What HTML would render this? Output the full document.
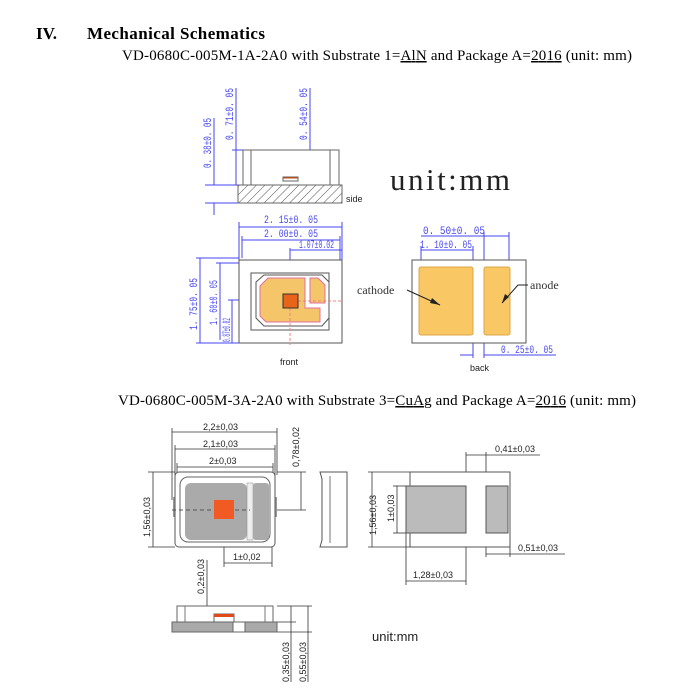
<!DOCTYPE html>
<html><head><meta charset="utf-8"><style>
html,body{margin:0;padding:0;background:#fff;width:688px;height:691px;overflow:hidden}
svg{display:block}
.b{fill:#4646f0;font-family:"Liberation Mono",monospace;font-size:11px}
.k{font-family:"Liberation Sans",sans-serif;font-size:9px;fill:#222}
</style></head><body>
<svg width="688" height="691" viewBox="0 0 688 691" xmlns="http://www.w3.org/2000/svg">
<defs>
<pattern id="h" width="6" height="6" patternUnits="userSpaceOnUse" patternTransform="rotate(45)"><line x1="0" y1="0" x2="0" y2="6" stroke="#555" stroke-width="1"/></pattern>
</defs>
<text x="36" y="39" font-family="Liberation Serif,serif" font-weight="bold" font-size="17">IV.</text>
<text x="87" y="39" font-family="Liberation Serif,serif" font-weight="bold" font-size="17" textLength="178">Mechanical Schematics</text>
<text x="122" y="60" font-family="Liberation Serif,serif" font-size="15" textLength="510">VD-0680C-005M-1A-2A0 with Substrate 1=<tspan text-decoration="underline">AlN</tspan> and Package A=<tspan text-decoration="underline">2016</tspan> (unit: mm)</text>

<g stroke="#4646f0" stroke-width="1" fill="none">
<line x1="214" y1="118" x2="214" y2="185"/><line x1="236" y1="88" x2="236" y2="185"/><line x1="310" y1="88" x2="310" y2="177"/>
<line x1="205" y1="185" x2="243" y2="185"/><line x1="205" y1="203" x2="238" y2="203"/><line x1="214" y1="203" x2="214" y2="215"/>
<line x1="232" y1="150" x2="243" y2="150"/><line x1="300" y1="177" x2="315" y2="177"/>
<line x1="239" y1="227" x2="342" y2="227"/><line x1="242" y1="240" x2="340" y2="240"/><line x1="290" y1="250" x2="342" y2="250"/>
<line x1="239" y1="222" x2="239" y2="260"/><line x1="342" y1="222" x2="342" y2="343"/><line x1="340" y1="236" x2="340" y2="260"/><line x1="242" y1="236" x2="242" y2="258"/>
<line x1="290" y1="248" x2="290" y2="300"/>
<line x1="200" y1="258" x2="200" y2="343"/><line x1="220" y1="263" x2="220" y2="340"/><line x1="232" y1="300" x2="232" y2="343"/>
<line x1="196" y1="258" x2="239" y2="258"/><line x1="216" y1="263" x2="250" y2="263"/><line x1="196" y1="343" x2="239" y2="343"/><line x1="228" y1="300" x2="283" y2="300"/>
<line x1="421" y1="250" x2="473" y2="250"/><line x1="421" y1="246" x2="421" y2="262"/><line x1="473" y1="246" x2="473" y2="262"/>
<line x1="484" y1="236" x2="509" y2="236"/><line x1="484" y1="232" x2="484" y2="262"/><line x1="509" y1="232" x2="509" y2="262"/><line x1="421" y1="236" x2="484" y2="236"/>
<line x1="473" y1="343" x2="473" y2="358"/><line x1="484" y1="343" x2="484" y2="358"/><line x1="460" y1="355" x2="473" y2="355"/><line x1="484" y1="355" x2="556" y2="355"/>
</g>
<g>
<text class="b" transform="translate(211,168) rotate(-90)" textLength="50" lengthAdjust="spacingAndGlyphs">0. 38±0. 05</text>
<text class="b" transform="translate(233,140) rotate(-90)" textLength="52" lengthAdjust="spacingAndGlyphs">0. 71±0. 05</text>
<text class="b" transform="translate(307,140) rotate(-90)" textLength="52" lengthAdjust="spacingAndGlyphs">0. 54±0. 05</text>
<text class="b" x="264" y="223" textLength="54" lengthAdjust="spacingAndGlyphs">2. 15±0. 05</text>
<text class="b" x="264" y="237" textLength="54" lengthAdjust="spacingAndGlyphs">2. 00±0. 05</text>
<text class="b" x="299" y="248" font-size="7" textLength="35" lengthAdjust="spacingAndGlyphs">1.07±0.02</text>
<text class="b" transform="translate(197,330) rotate(-90)" textLength="52" lengthAdjust="spacingAndGlyphs">1. 75±0. 05</text>
<text class="b" transform="translate(217,325) rotate(-90)" textLength="45" lengthAdjust="spacingAndGlyphs">1. 60±0. 05</text>
<text class="b" transform="translate(230,342) rotate(-90)" font-size="7" textLength="24" lengthAdjust="spacingAndGlyphs">0.87±0.02</text>
<text class="b" x="423" y="234" textLength="62" lengthAdjust="spacingAndGlyphs">0. 50±0. 05</text>
<text class="b" x="420" y="248" textLength="52" lengthAdjust="spacingAndGlyphs">1. 10±0. 05</text>
<text class="b" x="501" y="353" textLength="52" lengthAdjust="spacingAndGlyphs">0. 25±0. 05</text>
</g>
<rect x="243" y="150" width="96" height="35" fill="#fff" stroke="#666"/>
<line x1="251" y1="150" x2="251" y2="185" stroke="#666"/><line x1="330" y1="150" x2="330" y2="185" stroke="#666"/>
<rect x="283" y="177" width="15" height="4" fill="#fff" stroke="#666"/><rect x="283" y="177" width="15" height="1.5" fill="#b05020"/>
<rect x="238" y="185" width="104" height="18" fill="url(#h)" stroke="#666"/>
<text class="k" x="346" y="202">side</text>
<text x="390" y="190" font-family="Liberation Serif,serif" font-size="31" fill="#222" textLength="120">unit:mm</text>

<rect x="239" y="260" width="103" height="83" fill="#fff" stroke="#555"/>
<rect x="251" y="273" width="78" height="57" fill="#fff" stroke="#555"/>
<polygon points="264,275 322,275 329,282 329,318 322,326 264,326 256,318 256,282" fill="#fff" stroke="#555"/>
<polygon points="268,278 305,278 305,308 320,308 320,322 266,322 260,316 260,286" fill="#f5c56a" stroke="#e070a0"/>
<polygon points="310,278 318,278 325,285 325,303 310,303" fill="#f5c56a" stroke="#e070a0"/>
<line x1="298" y1="301" x2="342" y2="301" stroke="#f08080" stroke-dasharray="3,2"/>
<line x1="290" y1="308" x2="290" y2="345" stroke="#f08080" stroke-dasharray="3,2"/>
<rect x="283" y="294" width="15" height="14" fill="#e8641a" stroke="#333"/>
<text class="k" x="280" y="365">front</text>

<rect x="412" y="260" width="114" height="83" fill="#fff" stroke="#555"/>
<rect x="419" y="267" width="54" height="68" rx="2" fill="#f9c865" stroke="#d9a64a"/>
<rect x="484" y="267" width="26" height="68" rx="2" fill="#f9c865" stroke="#d9a64a"/>
<text x="357" y="294" font-family="Liberation Serif,serif" font-size="12" fill="#333">cathode</text>
<line x1="407" y1="290" x2="440" y2="305" stroke="#222"/>
<polygon points="440,305 432,298 430,303" fill="#222"/>
<text x="530" y="289" font-family="Liberation Serif,serif" font-size="12" fill="#333">anode</text>
<path d="M528 285 L518 285 L502 303" stroke="#222" fill="none"/>
<polygon points="502,303 505,294 509,297" fill="#222"/>
<text class="k" x="470" y="371">back</text>

<text x="118" y="405" font-family="Liberation Serif,serif" font-size="15" textLength="518">VD-0680C-005M-3A-2A0 with Substrate 3=<tspan text-decoration="underline">CuAg</tspan> and Package A=<tspan text-decoration="underline">2016</tspan> (unit: mm)</text>

<g stroke="#333" stroke-width="0.8" fill="none">
<line x1="172" y1="432" x2="277" y2="432"/><line x1="175" y1="449" x2="275" y2="449"/><line x1="177" y1="467" x2="273" y2="467"/>
<line x1="172" y1="428" x2="172" y2="500"/><line x1="277" y1="428" x2="277" y2="475"/><line x1="175" y1="445" x2="175" y2="475"/><line x1="275" y1="445" x2="275" y2="475"/><line x1="177" y1="463" x2="177" y2="475"/><line x1="273" y1="463" x2="273" y2="475"/>
<line x1="301" y1="472" x2="301" y2="510"/><line x1="277" y1="472" x2="306" y2="472"/><line x1="250" y1="510" x2="306" y2="510"/>
<line x1="153" y1="472" x2="153" y2="547"/><line x1="148" y1="472" x2="175" y2="472"/><line x1="148" y1="547" x2="175" y2="547"/>
<line x1="224" y1="563" x2="272" y2="563"/><line x1="224" y1="510" x2="224" y2="567"/><line x1="272" y1="545" x2="272" y2="567"/>
<line x1="372" y1="472" x2="372" y2="547"/><line x1="368" y1="472" x2="410" y2="472"/><line x1="368" y1="547" x2="410" y2="547"/>
<line x1="397" y1="486" x2="397" y2="533"/><line x1="393" y1="486" x2="406" y2="486"/><line x1="393" y1="533" x2="406" y2="533"/>
<line x1="466" y1="452" x2="466" y2="486"/><line x1="486" y1="452" x2="486" y2="486"/><line x1="466" y1="455" x2="486" y2="455"/><line x1="486" y1="455" x2="540" y2="455"/>
<line x1="486" y1="533" x2="486" y2="557"/><line x1="510" y1="533" x2="510" y2="557"/><line x1="486" y1="554" x2="565" y2="554"/>
<line x1="406" y1="533" x2="406" y2="585"/><line x1="466" y1="533" x2="466" y2="585"/><line x1="406" y1="581" x2="466" y2="581"/>
<line x1="207" y1="560" x2="207" y2="620"/><line x1="200" y1="614" x2="215" y2="614"/>
<line x1="291" y1="606" x2="291" y2="682"/><line x1="308" y1="606" x2="308" y2="682"/><line x1="277" y1="606" x2="312" y2="606"/><line x1="277" y1="622" x2="296" y2="622"/><line x1="277" y1="632" x2="312" y2="632"/>
</g>
<g font-family="Liberation Sans,sans-serif" font-size="9" fill="#222">
<text x="203" y="430">2,2±0,03</text><text x="203" y="447">2,1±0,03</text><text x="209" y="464">2±0,03</text>
<text transform="translate(299,467) rotate(-90)">0,78±0,02</text>
<text transform="translate(150,537) rotate(-90)">1,56±0,03</text>
<text x="233" y="560">1±0,02</text>
<text transform="translate(376,535) rotate(-90)">1,56±0,03</text>
<text transform="translate(394,522) rotate(-90)">1±0,03</text>
<text x="495" y="452">0,41±0,03</text>
<text x="518" y="551">0,51±0,03</text>
<text x="413" y="578">1,28±0,03</text>
<text transform="translate(204,594) rotate(-90)">0,2±0,03</text>
<text transform="translate(289,682) rotate(-90)">0,35±0,03</text>
<text transform="translate(306,682) rotate(-90)">0,55±0,03</text>
<text x="372" y="641" font-size="13">unit:mm</text>
</g>
<rect x="173" y="497" width="4" height="20" fill="#999"/><rect x="273" y="497" width="4" height="20" fill="#999"/>
<rect x="175" y="472" width="100" height="75" rx="4" fill="#fff" stroke="#555"/>
<rect x="180" y="477" width="90" height="65" rx="8" fill="#fff" stroke="#666"/>
<rect x="185" y="483" width="62" height="57" rx="6" fill="#aaa"/>
<rect x="247" y="483" width="6" height="57" fill="#eee" stroke="#888" stroke-width="0.5"/>
<rect x="253" y="483" width="16" height="57" rx="3" fill="#aaa"/>
<line x1="172" y1="510" x2="250" y2="510" stroke="#555" stroke-dasharray="4,3"/>
<rect x="214" y="500" width="20" height="19" fill="#f15a22"/>
<polygon points="320,472 347,472 347,547 320,547 322,540 322,479" fill="#fff" stroke="#555"/>
<line x1="330" y1="476" x2="330" y2="543" stroke="#777"/>
<rect x="410" y="472" width="100" height="75" fill="#fff" stroke="#555"/>
<rect x="406" y="486" width="60" height="47" fill="#bbb" stroke="#555"/>
<rect x="486" y="486" width="22" height="47" fill="#bbb" stroke="#555"/>
<polygon points="177,606 273,606 273,622 177,622" fill="#fff" stroke="#666"/>
<line x1="185" y1="606" x2="185" y2="622" stroke="#777"/><line x1="265" y1="606" x2="265" y2="622" stroke="#777"/>
<rect x="172" y="622" width="105" height="10" fill="#aaa" stroke="#666"/>
<rect x="233" y="622" width="12" height="10" fill="#fff" stroke="#666"/>
<rect x="214" y="614" width="20" height="8" fill="#fff" stroke="#666"/>
<rect x="214" y="614" width="20" height="3" fill="#e04a1a"/>
</svg>
</body></html>
